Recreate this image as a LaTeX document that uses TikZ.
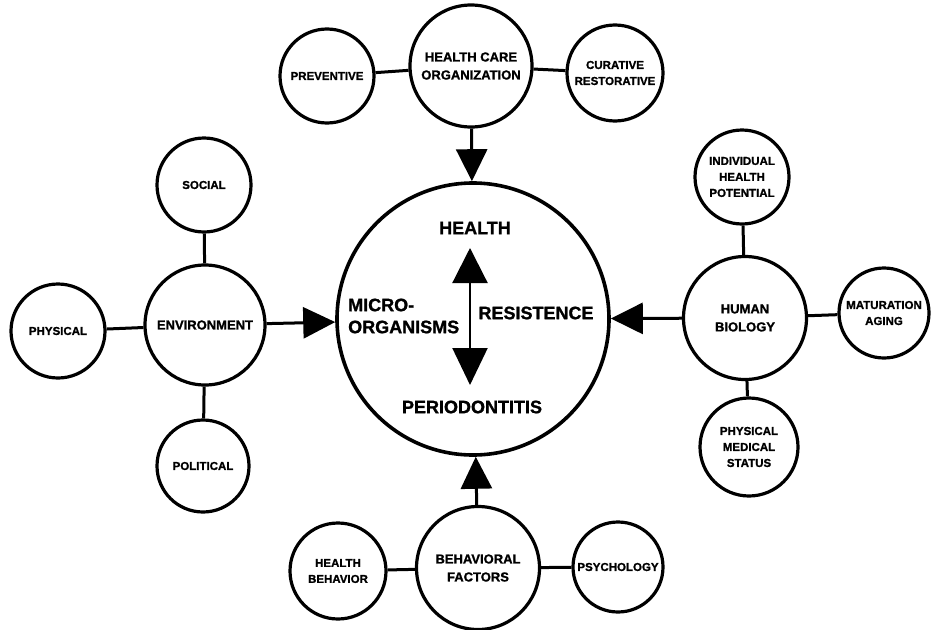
\documentclass[tikz,border=0pt]{standalone}
\usepackage{fontspec}
\setmainfont[BoldFeatures={FakeBold=1.2}]{Liberation Sans}
\usetikzlibrary{arrows.meta}
\begin{document}
\begin{tikzpicture}[x=1pt,y=-1pt,
  bubble/.style={circle, draw, line width=3.2pt, inner sep=0pt, align=center},
  smallbubble/.style={bubble, font=\fontsize{11.5}{16}\selectfont\bfseries},
  midbubble/.style={bubble, font=\fontsize{13}{18}\selectfont\bfseries},
  link/.style={line width=3pt},
  bigarrow/.style={line width=3pt, -{Triangle[length=32pt,width=31pt]}},
  bigtext/.style={font=\fontsize{18}{22}\selectfont\bfseries, inner sep=0pt}]
\useasboundingbox (0,0) rectangle (931,629);

% central circle and its contents
\node[bubble, line width=3.6pt, minimum size=272pt] (ctr) at (473,319) {};
\node[bigtext] (health) at (475,228) {HEALTH};
\node[bigtext, anchor=west, align=left] (micro) at (348,316) {MICRO-\\ORGANISMS};
\node[bigtext] (resist) at (536,313) {RESISTENCE};
\node[bigtext] (perio) at (472,407) {PERIODONTITIS};
\coordinate (up) at (470,248);
\coordinate (down) at (470,385);
\draw[line width=2.2pt, {Triangle[length=35pt,width=35pt]}-{Triangle[length=37pt,width=35pt]}] (up) -- (down);

% health care organization
\node[midbubble, minimum size=122pt] (hco) at (471,66) {HEALTH CARE\\ORGANIZATION};
\node[smallbubble, minimum size=94pt] (prev) at (327,76) {PREVENTIVE};
\node[smallbubble, minimum size=96pt] (cur) at (615,73) {CURATIVE\\RESTORATIVE};
\draw[link] (hco) -- (prev);
\draw[link] (hco) -- (cur);
\draw[bigarrow] (hco) -- (ctr);

% environment
\node[midbubble, minimum size=120pt] (env) at (205,325) {ENVIRONMENT};
\node[smallbubble, minimum size=94pt] (soc) at (204,185) {SOCIAL};
\node[smallbubble, minimum size=94pt] (phys) at (58,331) {PHYSICAL};
\node[smallbubble, minimum size=92pt] (pol) at (203,466) {POLITICAL};
\draw[link] (env) -- (soc);
\draw[link] (env) -- (phys);
\draw[link] (env) -- (pol);
\draw[bigarrow] (env) -- (ctr);

% human biology
\node[midbubble, minimum size=123pt] (hb) at (745,318) {HUMAN\\BIOLOGY};
\node[smallbubble, minimum size=94pt] (ind) at (742,177) {INDIVIDUAL\\HEALTH\\POTENTIAL};
\node[smallbubble, minimum size=90pt] (mat) at (884,313) {MATURATION\\AGING};
\node[smallbubble, minimum size=98pt] (pms) at (749,447) {PHYSICAL\\MEDICAL\\STATUS};
\draw[link] (hb) -- (ind);
\draw[link] (hb) -- (mat);
\draw[link] (hb) -- (pms);
\draw[bigarrow] (hb) -- (ctr);

% behavioral factors
\node[midbubble, minimum size=123pt] (beh) at (478,568) {BEHAVIORAL\\FACTORS};
\node[smallbubble, minimum size=96pt] (hbeh) at (338,571) {HEALTH\\BEHAVIOR};
\node[smallbubble, minimum size=90pt] (psy) at (618,567) {PSYCHOLOGY};
\draw[link] (beh) -- (hbeh);
\draw[link] (beh) -- (psy);
\draw[bigarrow] (beh) -- (ctr);
\end{tikzpicture}
\end{document}
